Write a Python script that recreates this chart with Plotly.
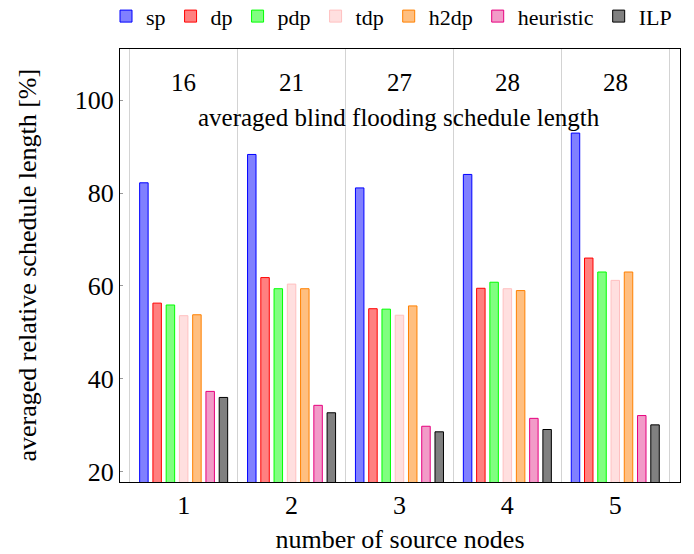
import plotly.graph_objects as go

categories = [1, 2, 3, 4, 5]
series_names = ["sp", "dp", "pdp", "tdp", "h2dp", "heuristic", "ILP"]
sp = [82.2, 88.3, 81.1, 84.0, 92.9]
dp = [56.3, 61.8, 55.1, 59.5, 66.0]
pdp = [55.9, 59.4, 55.0, 60.8, 63.0]
tdp = [53.6, 60.4, 53.7, 59.4, 61.2]
h2dp = [53.8, 59.4, 55.7, 59.0, 63.0]
heuristic = [37.3, 34.3, 29.8, 31.5, 32.1]
ilp = [36.0, 32.7, 28.6, 29.1, 30.1]
blind_flooding = [16, 21, 27, 28, 28]
y_ticks = [20, 40, 60, 80, 100]

series_values = [sp, dp, pdp, tdp, h2dp, heuristic, ilp]
fills = ["#8080FF", "#FF8080", "#80FF80", "#FFDFDF", "#FFBF80", "#F29BC8", "#808080"]
borders = ["#0000FF", "#FF0000", "#00FF00", "#FFC0C0", "#FF8000", "#E6007E", "#000000"]

SERIF = "Liberation Serif"

fig = go.Figure()
for name, vals, fc, lc in zip(series_names, series_values, fills, borders):
    fig.add_trace(go.Bar(
        x=categories, y=vals, name=name,
        marker=dict(color=fc, line=dict(color=lc, width=1)),
    ))

for c, v in zip(categories, blind_flooding):
    fig.add_annotation(x=c, y=103.8, xref="x", yref="y", text=str(v), showarrow=False,
                       font=dict(family=SERIF, size=25, color="black"))
fig.add_annotation(x=3, y=96.2, xref="x", yref="y", text="averaged blind flooding schedule length",
                   showarrow=False, font=dict(family=SERIF, size=25, color="black"))

fig.add_annotation(x=-0.166, y=0.5, xref="paper", yref="paper", xanchor="center", yanchor="middle",
                   text="averaged relative schedule length [%]", textangle=-90,
                   showarrow=False, font=dict(family=SERIF, size=26, color="black"))

fig.update_layout(
    width=694, height=554,
    margin=dict(l=120, r=14, t=49, b=72, autoexpand=False),
    plot_bgcolor="white", paper_bgcolor="white",
    barmode="group", bargap=0.14, bargroupgap=0.36,
    font=dict(family=SERIF, size=25, color="black"),
    legend=dict(orientation="h", x=-0.025, xanchor="left", y=1.027, yanchor="bottom",
                xref="paper", yref="paper",
                font=dict(family=SERIF, size=22), itemwidth=30, entrywidth=0,
                bgcolor="rgba(0,0,0,0)", tracegroupgap=0),
    xaxis=dict(range=[0.41, 5.6], tickvals=categories, ticktext=[str(c) for c in categories],
               showgrid=False, zeroline=False, showline=True, linecolor="black", linewidth=1,
               mirror=True, ticks="", tickfont=dict(family=SERIF, size=26),
               minor=dict(tickvals=[0.5, 1.5, 2.5, 3.5, 4.5, 5.5], showgrid=True,
                          gridcolor="#D3D3D3", gridwidth=1, ticks=""),
               title=dict(text="number of source nodes", font=dict(family=SERIF, size=26),
                          standoff=22)),
    yaxis=dict(range=[17.8, 111], tickvals=y_ticks, showgrid=False, zeroline=False,
               showline=True, linecolor="black", linewidth=1, mirror=True,
               ticks="inside", ticklen=3, tickcolor="#999999",
               tickfont=dict(family=SERIF, size=26)),
)

fig.write_html("out.html")
